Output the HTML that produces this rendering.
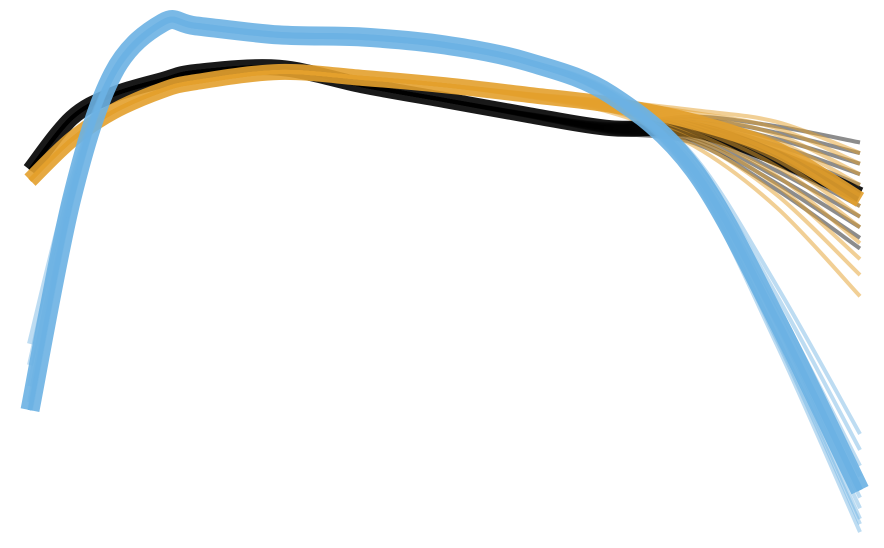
<!DOCTYPE html>
<html><head><meta charset="utf-8"><style>
html,body{margin:0;padding:0;background:#fff;}
svg{display:block;}
</style></head><body>
<svg id="chart" width="884" height="548" viewBox="0 0 884 548"></svg>
<script>
const xs = [0,0.5,1,1.6,2,3,4,5,6,7,8,9,10];
const blueVals  = [24.5,64.2,88.0,97.6,97.0,95.3,94.9,93.4,90.2,84.0,69.8,41.5,9.4];
const blackVals = [69.8,79.6,84.0,86.8,88.3,89.1,85.8,83.0,80.2,77.7,77.4,72.1,65.1];
const orangeVals= [67.9,75.5,80.8,84.9,86.4,88.3,87.2,85.8,84.0,82.1,78.9,73.6,64.2];
// spread of individual draws at the right end (data units)
const blueEnds   = [20,17,14,12,10,8,6,4,3,1.5];
const blackEnds  = [75,73,71,69,67,65,63,61,59,57,55];
const orangeEnds = [73,71,69,67,65,63,61,59,56,53,50,46];
const blueStarts = [37,33,29,26,24.5];
const tailWeight = [0,0,0,0,0,0,0,0,0.02,0.08,0.25,0.6,1];
const headWeight = [1,0.3,0,0,0,0,0,0,0,0,0,0,0];

const W0=30,W1=860,Y0=540,K=5.3;
const xScale=t=>W0+(W1-W0)*t/10;
const yScale=v=>Y0-v*K;
const svg=document.getElementById('chart');
const NS='http://www.w3.org/2000/svg';

function pathD(vals){
  const p=xs.map((x,i)=>[xScale(x),yScale(vals[i])]);
  let d=`M${p[0][0]},${p[0][1]}`;
  for(let i=0;i<p.length-1;i++){
    const a=p[i-1]||p[i],b=p[i],c=p[i+1],e=p[i+2]||c;
    const c1=[b[0]+(c[0]-a[0])/6,b[1]+(c[1]-a[1])/6];
    const c2=[c[0]-(e[0]-b[0])/6,c[1]-(e[1]-b[1])/6];
    d+=` C${c1[0]},${c1[1]} ${c2[0]},${c2[1]} ${c[0]},${c[1]}`;
  }
  return d;
}
function line(vals,color,w,op,name){
  const el=document.createElementNS(NS,'path');
  el.setAttribute('d',pathD(vals));
  el.setAttribute('fill','none');
  el.setAttribute('stroke',color);
  el.setAttribute('stroke-width',w);
  el.setAttribute('stroke-opacity',op);
  el.setAttribute('stroke-linecap','butt');
  el.setAttribute('stroke-linejoin','round');
  
  
  svg.appendChild(el);
}
function series(mean,ends,starts,color,w,op,name){
  const last=mean[mean.length-1];
  ends.forEach(e=>{
    const v=mean.map((m,i)=>m+(e-last)*tailWeight[i]);
    line(v,color,4,op,name+'-draw');
  });
  if(starts) starts.forEach(s=>{
    const v=mean.map((m,i)=>m+(s-mean[0])*headWeight[i]);
    line(v,color,6,0.45,name+'-draw');
  });
  line(mean,color,w,0.9,name+'-line');
}
series(blackVals,blackEnds,null,'#000000',16,0.45,'black-series');
series(orangeVals,orangeEnds,null,'#e3a02c',16,0.5,'orange-series');
series(blueVals,blueEnds,blueStarts,'#6cb1e3',19,0.45,'blue-series');
</script>
</body></html>
